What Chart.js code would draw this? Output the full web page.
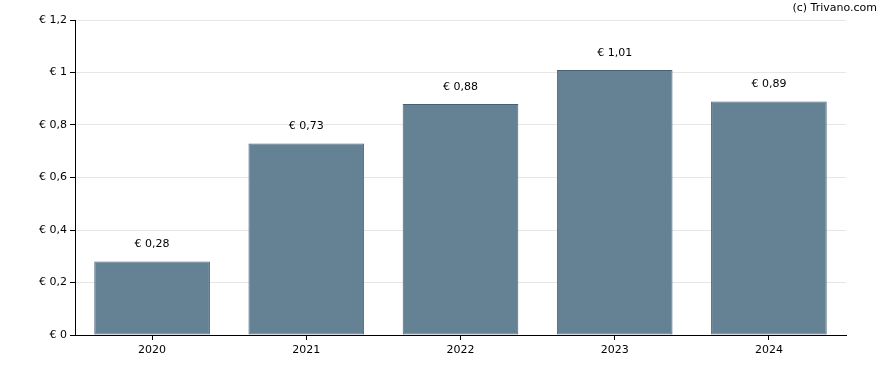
<!DOCTYPE html>
<html>
<head>
<meta charset="utf-8">
<script src="https://cdn.jsdelivr.net/npm/chart.js@4/dist/chart.umd.min.js"></script>
<style>
  html, body { margin: 0; padding: 0; background: #fff; }
  #wrap { width: 888px; height: 370px; }
</style>
</head>
<body>
<div id="wrap"><canvas id="grafik" width="888" height="370"></canvas></div>
<script>
const jaren = ['2020', '2021', '2022', '2023', '2024'];
const dividend = [0.28, 0.73, 0.88, 1.01, 0.89];
const yTicks = [0, 0.2, 0.4, 0.6, 0.8, 1, 1.2];

const euro = v => '€ ' + String(+v.toFixed(2)).replace('.', ',');
const FONT = 'DejaVu Sans';

// waarde boven elke balk + bronvermelding
const labelsPlugin = {
  id: 'labels',
  afterDatasetsDraw(chart) {
    const ctx = chart.ctx;
    const meta = chart.getDatasetMeta(0);
    ctx.save();
    ctx.font = '11px "' + FONT + '"';
    ctx.fillStyle = '#000';
    ctx.textAlign = 'center';
    ctx.textBaseline = 'middle';
    meta.data.forEach((bar, i) => {
      ctx.fillText(euro(dividend[i]), bar.x, bar.y - 17);
    });
    ctx.textAlign = 'right';
    ctx.fillText('(c) Trivano.com', 877, 8);
    ctx.restore();
  }
};

new Chart(document.getElementById('grafik').getContext('2d'), {
  type: 'bar',
  data: {
    labels: jaren,
    datasets: [{
      data: dividend,
      backgroundColor: '#658294',
      borderColor: '#46607a',
      borderWidth: 1,
      borderSkipped: false,
      barPercentage: 1,
      categoryPercentage: 0.75
    }]
  },
  options: {
    responsive: false,
    animation: false,
    devicePixelRatio: 1,
    layout: { padding: { left: 0, right: 42, top: 20, bottom: 0 } },
    plugins: { legend: { display: false }, tooltip: { enabled: false } },
    scales: {
      x: {
        grid: { offset: false, drawOnChartArea: false, tickLength: 5, tickColor: '#000' },
        border: { color: '#000', width: 1 },
        ticks: { color: '#000', font: { family: FONT, size: 11 }, padding: 4 },
        afterFit(scale) { scale.height = 35; }
      },
      y: {
        min: 0,
        max: 1.2,
        afterBuildTicks(scale) { scale.ticks = yTicks.map(v => ({ value: v })); },
        grid: { color: '#e6e6e6', tickLength: 5, tickColor: '#000' },
        border: { color: '#000', width: 1 },
        ticks: { color: '#000', font: { family: FONT, size: 11 }, padding: 3, callback: v => euro(v) },
        afterFit(scale) { scale.width = 75; }
      }
    }
  },
  plugins: [labelsPlugin]
});
</script>
</body>
</html>
